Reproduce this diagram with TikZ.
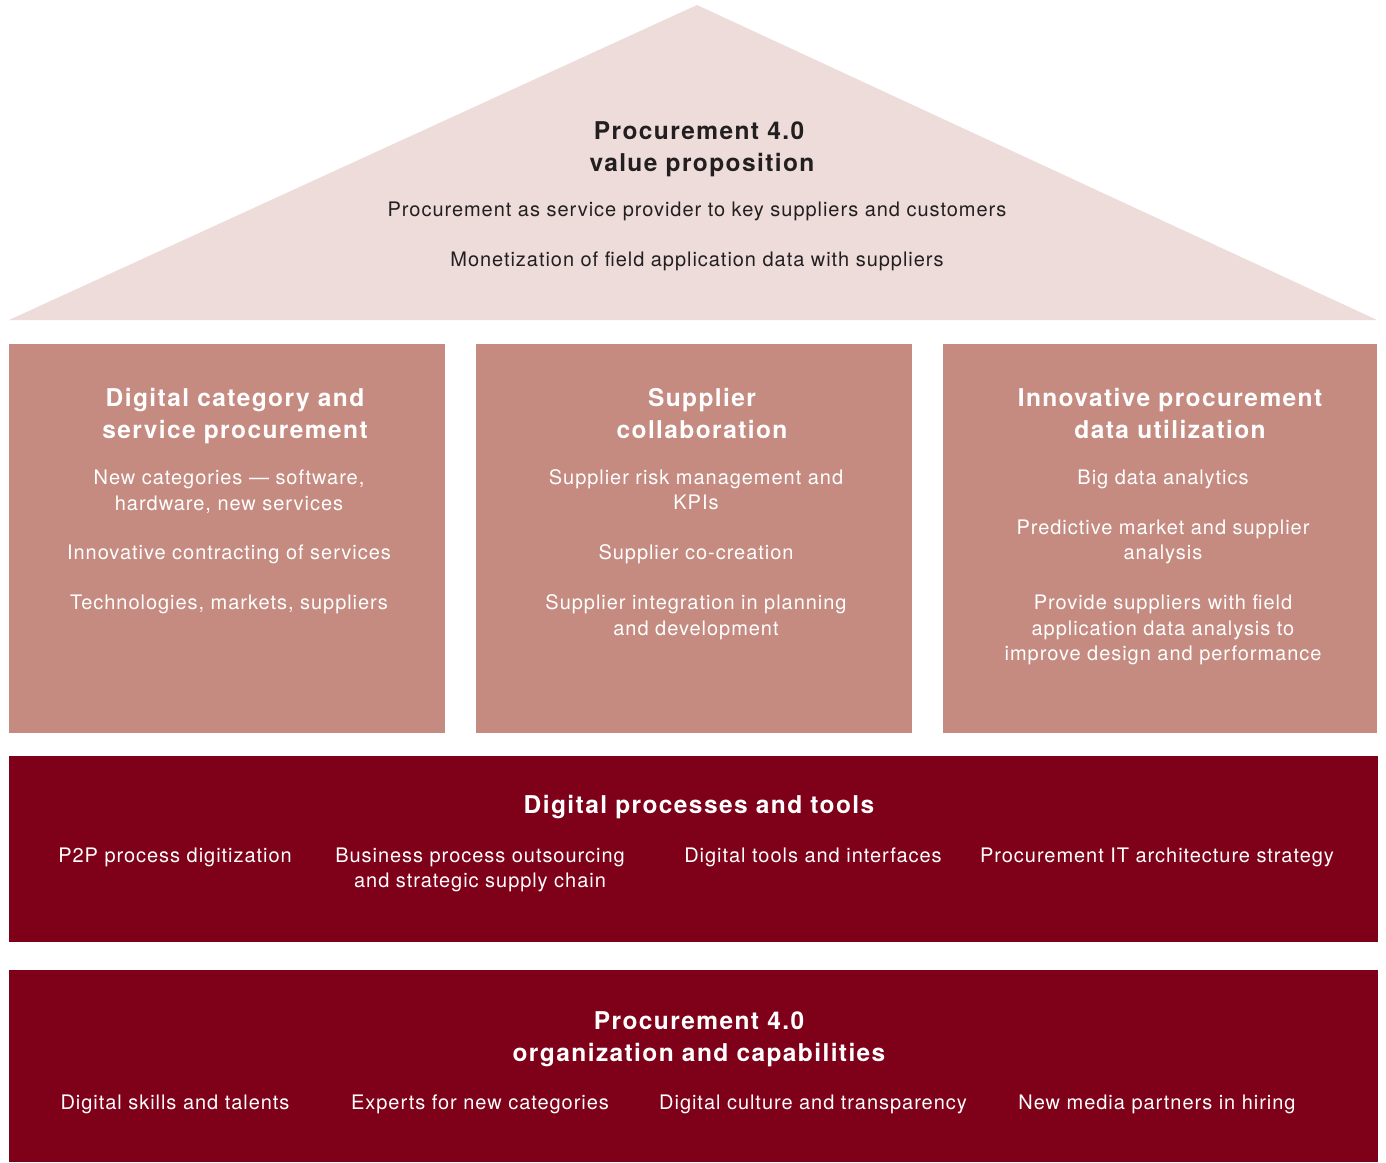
\documentclass[tikz,border=0pt]{standalone}
\usepackage{fontspec}
\setmainfont{TeX Gyre Heros}
\newfontfamily\bodyfont{TeX Gyre Heros}[LetterSpace=4.8]
\newfontfamily\ttlfont{TeX Gyre Heros}[LetterSpace=5.7]
\definecolor{roof}{HTML}{EDDCD9}
\definecolor{pillar}{HTML}{C58B80}
\definecolor{bar}{HTML}{7F0019}
\definecolor{ink}{HTML}{231F20}
\begin{document}
\begin{tikzpicture}[x=1pt,y=-1pt,
  body/.style={font=\bodyfont\fontsize{20}{25}\selectfont, anchor=base, inner sep=0pt},
  ttl/.style={font=\ttlfont\bfseries\fontsize{24.5}{32}\selectfont, anchor=base, inner sep=0pt},
  wht/.style={text=white},
  dark/.style={text=ink}]
\useasboundingbox (0,0) rectangle (1386,1162);
% shapes
\fill[roof] (9,320) -- (697,5) -- (1377,320) -- cycle;
\fill[pillar] (9,344) rectangle (445,733);
\fill[pillar] (476,344) rectangle (912,733);
\fill[pillar] (943,344) rectangle (1377,733);
\fill[bar] (9,756) rectangle (1378,942);
\fill[bar] (9,970) rectangle (1378,1162);
% roof text
\node[ttl,dark] (r1) at (699,139.3) {Procurement 4.0};
\node[ttl,dark] (r2) at (702,171) {value proposition};
\node[body,dark] (r3) at (697,216) {Procurement as service provider to key suppliers and customers};
\node[body,dark] (r4) at (697,266) {Monetization of field application data with suppliers};
% pillar 1
\node[ttl,wht] (a1) at (235,406.7) {Digital category and};
\node[ttl,wht] (a2) at (235,438.7) {service procurement};
\node[body,wht] (a3) at (229,484) {New categories — software,};
\node[body,wht] (a4) at (229,510) {hardware, new services};
\node[body,wht] (a5) at (229,559) {Innovative contracting of services};
\node[body,wht] (a6) at (229,609) {Technologies, markets, suppliers};
% pillar 2
\node[ttl,wht] (b1) at (702,406.7) {Supplier};
\node[ttl,wht] (b2) at (702,438.7) {collaboration};
\node[body,wht] (b3) at (696,484) {Supplier risk management and};
\node[body,wht] (b4) at (696,509) {KPIs};
\node[body,wht] (b5) at (696,559) {Supplier co-creation};
\node[body,wht] (b6) at (696,609) {Supplier integration in planning};
\node[body,wht] (b7) at (696,635) {and development};
% pillar 3
\node[ttl,wht] (c1) at (1170,406.7) {Innovative procurement};
\node[ttl,wht] (c2) at (1170,438.7) {data utilization};
\node[body,wht] (c3) at (1163,484) {Big data analytics};
\node[body,wht] (c4) at (1163,534) {Predictive market and supplier};
\node[body,wht] (c5) at (1163,559) {analysis};
\node[body,wht] (c6) at (1163,609) {Provide suppliers with field};
\node[body,wht] (c7) at (1163,635) {application data analysis to};
\node[body,wht] (c8) at (1163,660) {improve design and performance};
% bar 1
\node[ttl,wht] (d0) at (699,813) {Digital processes and tools};
\node[body,wht] (d1) at (175,862) {P2P process digitization};
\node[body,wht] (d2) at (480,862) {Business process outsourcing};
\node[body,wht] (d3) at (480,887) {and strategic supply chain};
\node[body,wht] (d4) at (813,862) {Digital tools and interfaces};
\node[body,wht] (d5) at (1157,862) {Procurement IT architecture strategy};
% bar 2
\node[ttl,wht] (e0) at (699,1029) {Procurement 4.0};
\node[ttl,wht] (e1) at (699,1061) {organization and capabilities};
\node[body,wht] (e2) at (175,1109) {Digital skills and talents};
\node[body,wht] (e3) at (480,1109) {Experts for new categories};
\node[body,wht] (e4) at (813,1109) {Digital culture and transparency};
\node[body,wht] (e5) at (1157,1109) {New media partners in hiring};
\end{tikzpicture}
\end{document}
